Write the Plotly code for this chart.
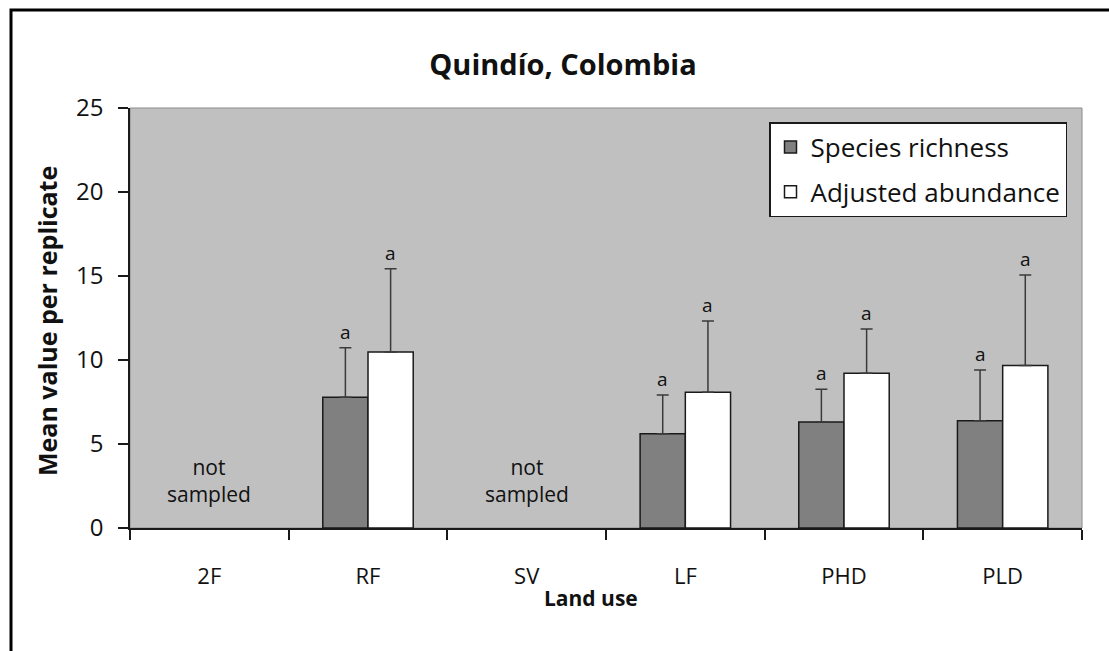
import plotly.graph_objects as go

# Land-use categories and per-replicate means (None = not sampled)
land_use = ["2F", "RF", "SV", "LF", "PHD", "PLD"]
richness = [None, 7.78, None, 5.61, 6.31, 6.39]
richness_err = [None, 2.95, None, 2.31, 1.95, 3.01]
abundance = [None, 10.48, None, 8.08, 9.21, 9.68]
abundance_err = [None, 4.95, None, 4.24, 2.64, 5.38]
richness_letters = ["", "a", "", "a", "a", "a"]
abundance_letters = ["", "a", "", "a", "a", "a"]
not_sampled = ["2F", "SV"]

FONT = "Open Sans"
W, H = 1109, 651
L, R, T, B = 130, 27, 108, 123
pw, ph = W - L - R, H - T - B

fig = go.Figure()
fig.add_trace(go.Bar(
    name="Species richness", x=land_use, y=richness,
    marker=dict(color="#808080", line=dict(color="#1a1a1a", width=1.5)),
    error_y=dict(type="data", array=richness_err, symmetric=False,
                 arrayminus=[0] * len(land_use), color="#3a3a3a",
                 thickness=1.5, width=6),
    legendgroup="g1",
))
fig.add_trace(go.Bar(
    name="Adjusted abundance", x=land_use, y=abundance,
    marker=dict(color="#ffffff", line=dict(color="#1a1a1a", width=1.5)),
    error_y=dict(type="data", array=abundance_err, symmetric=False,
                 arrayminus=[0] * len(land_use), color="#3a3a3a",
                 thickness=1.5, width=6),
    legendgroup="g2",
))

annotations = []
# significance letters above the error bars
for i, cat in enumerate(land_use):
    for vals, errs, letters, off in ((richness, richness_err, richness_letters, -0.5),
                                     (abundance, abundance_err, abundance_letters, 0.5)):
        if vals[i] is None or not letters[i]:
            continue
        annotations.append(dict(
            x=cat, y=vals[i] + errs[i], xref="x", yref="y",
            text=letters[i], showarrow=False, yanchor="bottom",
            xshift=off * 45, yshift=1,
            font=dict(family=FONT, size=19, color="#111111"),
        ))
for cat in not_sampled:
    annotations.append(dict(
        x=cat, y=2.8, xref="x", yref="y", text="not<br>sampled",
        showarrow=False, font=dict(family=FONT, size=21, color="#111111"),
    ))
annotations.append(dict(
    x=(591 - L) / pw, y=(H - B - 598) / ph, xref="paper", yref="paper",
    text="<b>Land use</b>", showarrow=False, yanchor="middle",
    font=dict(family=FONT, size=21, color="#111111"),
))
annotations.append(dict(
    x=(47 - L) / pw, y=(H - B - 321) / ph, xref="paper", yref="paper",
    text="<b>Mean value per replicate</b>", showarrow=False, textangle=-90,
    xanchor="center", yanchor="middle",
    font=dict(family=FONT, size=25, color="#111111"),
))

fig.update_layout(
    width=W, height=H,
    margin=dict(l=L, r=R, t=T, b=B),
    paper_bgcolor="white",
    plot_bgcolor="#c0c0c0",
    barmode="group", bargap=0.43, bargroupgap=0,
    font=dict(family=FONT, size=20, color="#111111"),
    annotations=annotations,
    title=dict(text="<b>Quindío, Colombia</b>", x=563 / W, xanchor="center",
               y=1 - 65 / H, yanchor="middle",
               font=dict(family=FONT, size=29, color="#111111")),
    showlegend=True,
    legend=dict(
        x=(1067 - L) / pw, y=(H - B - 122) / ph, xanchor="right", yanchor="top",
        bgcolor="white", bordercolor="#1a1a1a", borderwidth=1.5,
        font=dict(family=FONT, size=26, color="#111111"),
        traceorder="grouped", tracegroupgap=8,
    ),
    shapes=[
        # outer frame
        dict(type="rect", xref="paper", yref="paper",
             x0=(11 - L) / pw, y0=-0.5, x1=1.2, y1=(H - B - 10) / ph,
             line=dict(color="black", width=3), fillcolor="rgba(0,0,0,0)", layer="above"),
        # plot area border
        dict(type="rect", xref="paper", yref="paper", x0=0, y0=0, x1=1, y1=1,
             line=dict(color="#8a8a8a", width=1), fillcolor="rgba(0,0,0,0)", layer="below"),
    ],
)

fig.update_xaxes(
    type="category", showgrid=False, showline=True, linecolor="#1a1a1a", linewidth=1.5,
    ticks="outside", tickson="boundaries", ticklen=10, tickcolor="#1a1a1a", tickwidth=1.5,
    tickfont=dict(family=FONT, size=22, color="#111111"), ticklabelstandoff=28,
)
fig.update_yaxes(
    range=[0, 25], tickvals=[0, 5, 10, 15, 20, 25], showgrid=False,
    showline=True, linecolor="#1a1a1a", linewidth=1.5, zeroline=False,
    ticks="outside", ticklen=10, tickcolor="#1a1a1a", tickwidth=1.5,
    tickfont=dict(family=FONT, size=24, color="#111111"), ticklabelstandoff=10,
)

fig.write_html("out.html")
